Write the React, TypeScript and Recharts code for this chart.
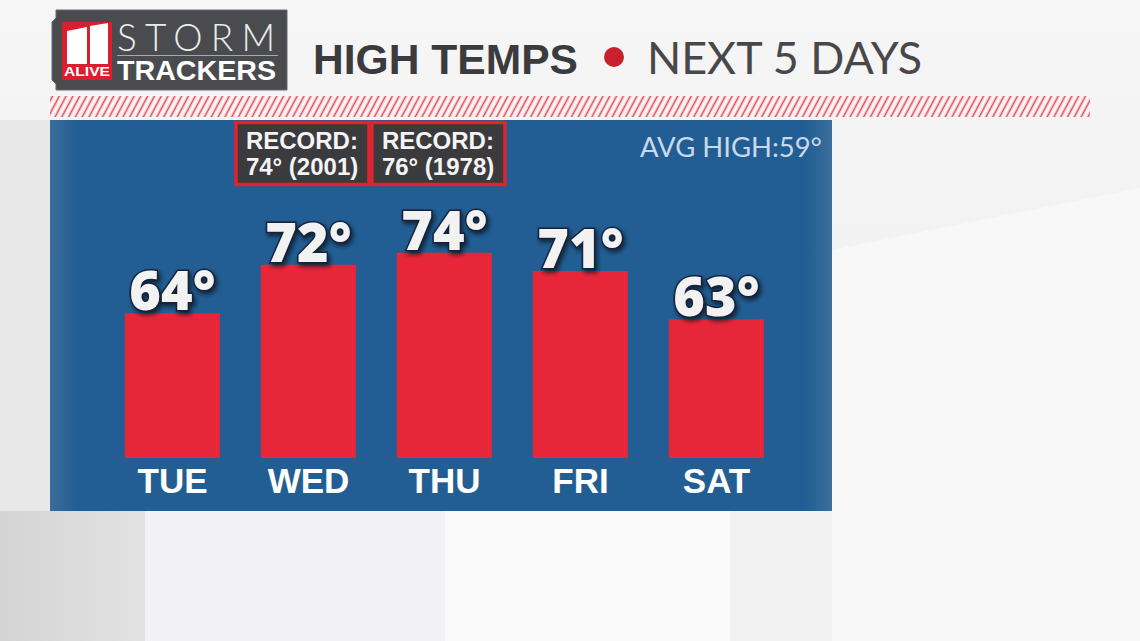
import React from 'react';
import { BarChart, Bar, XAxis, YAxis, LabelList } from 'recharts';

const days = ['TUE', 'WED', 'THU', 'FRI', 'SAT'];
const highs = [64, 72, 74, 71, 63];
const recordTemps: (number | null)[] = [null, 74, 76, null, null];
const recordYears: (number | null)[] = [null, 2001, 1978, null, null];
const avgHigh = 59;
const yDomain = [40, 96];

const data = days.map((d, i) => ({
  day: d,
  high: highs[i],
  record: recordTemps[i] == null ? null : `${recordTemps[i]}° (${recordYears[i]})`,
}));

const BLUE = '#225e93';
const RED = '#e8263a';

const ValueLabel = (p: any) => {
  const { x, y, width, value } = p;
  if (value == null) return null;
  return (
    <text
      x={x + width / 2}
      y={y - 3}
      textAnchor="middle"
      fill="#f2f2f2"
      stroke="#12243c"
      strokeWidth={3}
      paintOrder="stroke"
      filter="url(#valShadow)"
      style={{ fontFamily: '"Open Sans", "Liberation Sans", sans-serif', fontWeight: 800, fontSize: 54 }}
    >
      {`${value}°`}
    </text>
  );
};

const RecordLabel = (p: any) => {
  const { x, width, value } = p;
  if (value == null || value === '') return null;
  const cx = x + width / 2 - 6;
  const w = 133;
  const left = cx - w / 2;
  return (
    <g>
      <rect x={left} y={2.5} width={w} height={62} fill="#3b3b3e" stroke="#de2431" strokeWidth={3.5} />
      <text
        x={left + 10}
        y={29}
        fill="#f4f4f4"
        style={{ fontFamily: '"Liberation Sans", Arial, sans-serif', fontWeight: 700, fontSize: 24 }}
      >
        RECORD:
      </text>
      <text
        x={left + 10}
        y={55}
        fill="#f4f4f4"
        style={{ fontFamily: '"Liberation Sans", Arial, sans-serif', fontWeight: 700, fontSize: 24 }}
      >
        {value}
      </text>
    </g>
  );
};

const DayTick = (p: any) => {
  const { x, y, payload } = p;
  return (
    <text
      x={x}
      y={y + 35}
      textAnchor="middle"
      fill="#ffffff"
      style={{ fontFamily: '"Liberation Sans", Arial, sans-serif', fontWeight: 700, fontSize: 35 }}
    >
      {payload.value}
    </text>
  );
};

export default function App() {
  return (
    <div style={{ position: 'fixed', left: 0, top: 0, width: 1140, height: 641, overflow: 'hidden', background: '#f1f1f1' }}>
      {/* background */}
      <svg width={1140} height={641} style={{ position: 'absolute', left: 0, top: 0 }}>
        <defs>
          <linearGradient id="topBg" x1="0" y1="0" x2="0" y2="1">
            <stop offset="0" stopColor="#f6f6f6" />
            <stop offset="1" stopColor="#ececec" />
          </linearGradient>
          <linearGradient id="leftStrip" x1="0" y1="0" x2="1" y2="0">
            <stop offset="0" stopColor="#d4d4d4" />
            <stop offset="1" stopColor="#e2e2e2" />
          </linearGradient>
          <filter id="valShadow" x="-20%" y="-20%" width="140%" height="160%">
            <feDropShadow dx="2" dy="3" stdDeviation="2" floodColor="#0a1626" floodOpacity="0.85" />
          </filter>
          <pattern id="hatch" patternUnits="userSpaceOnUse" width="6" height="6" patternTransform="rotate(28)">
            <rect width="6" height="6" fill="#fbf4f4" />
            <line x1="1.5" y1="0" x2="1.5" y2="6" stroke="#e2495a" strokeWidth="1.6" />
          </pattern>
        </defs>
        <rect x={0} y={0} width={1140} height={641} fill="url(#topBg)" />
        <polygon points="832,250 1140,188 1140,641 832,641" fill="#f8f8f8" />
        <rect x={0} y={511} width={145} height={130} fill="url(#leftStrip)" />
        <rect x={145} y={511} width={300} height={130} fill="#f2f2f4" />
        <rect x={445} y={511} width={285} height={130} fill="#f9f9f9" />
        <rect x={730} y={511} width={102} height={130} fill="#f2f2f2" />
        <rect x={0} y={120} width={50} height={391} fill="#e8e8e8" />
        {/* hatch stripe */}
        <rect x={50} y={96} width={1040} height={21} fill="url(#hatch)" />
      </svg>

      {/* blue panel */}
      <div
        style={{
          position: 'absolute',
          left: 50,
          top: 120,
          width: 782,
          height: 391,
          background: `linear-gradient(to right, #3a6c9c 0px, ${BLUE} 28px, ${BLUE} 755px, #2f6797 770px, #3d6f9c 782px)`,
        }}
      />

      {/* chart */}
      <div style={{ position: 'absolute', left: 50, top: 120 }}>
        <BarChart
          width={782}
          height={391}
          data={data}
          margin={{ top: 0, right: 47.5, left: 54.5, bottom: 0 }}
          barCategoryGap="15%"
        >
          <YAxis hide domain={yDomain} allowDataOverflow />
          <XAxis
            dataKey="day"
            axisLine={false}
            tickLine={false}
            tickSize={0}
            tickMargin={0}
            height={53}
            interval={0}
            tick={<DayTick />}
          />
          <Bar dataKey="high" fill={RED} isAnimationActive={false}>
            <LabelList dataKey="high" content={<ValueLabel />} />
            <LabelList dataKey="record" content={<RecordLabel />} />
          </Bar>
        </BarChart>
      </div>

      {/* overlay: header + avg */}
      <svg width={1140} height={641} style={{ position: 'absolute', left: 0, top: 0, pointerEvents: 'none' }}>
        {/* logo */}
        <polygon
          points="56,10 287,10 287,90 56,90 56,84 52,80 52,22 56,18"
          fill="#4a4b4e"
          stroke="#6a6b6e"
          strokeWidth={1}
        />
        <rect x={62} y={22} width={50} height={58} fill="#d91f2e" />
        <polygon points="67,31 87,27 87,64 67,64" fill="#ffffff" />
        <polygon points="90,26 108,23 108,64 90,64" fill="#ffffff" />
        <text
          x={64}
          y={76}
          textLength={46}
          lengthAdjust="spacingAndGlyphs"
          fill="#ffffff"
          style={{ fontFamily: '"Liberation Sans", Arial, sans-serif', fontWeight: 900, fontSize: 12 }}
        >
          ALIVE
        </text>
        <text
          x={117}
          y={51}
          textLength={158}
          lengthAdjust="spacing"
          fill="#ececec"
          style={{ fontFamily: 'Lato, "Open Sans", sans-serif', fontWeight: 300, fontSize: 37 }}
        >
          STORM
        </text>
        <line x1={117} y1={55.5} x2={278} y2={55.5} stroke="#a8a8aa" strokeWidth={1} />
        <text
          x={117}
          y={80}
          textLength={159}
          lengthAdjust="spacingAndGlyphs"
          fill="#ffffff"
          style={{ fontFamily: '"Liberation Sans", Arial, sans-serif', fontWeight: 700, fontSize: 28 }}
        >
          TRACKERS
        </text>

        {/* title */}
        <text
          x={313}
          y={74}
          textLength={265}
          lengthAdjust="spacingAndGlyphs"
          fill="#3b3b3d"
          style={{ fontFamily: '"Liberation Sans", Arial, sans-serif', fontWeight: 700, fontSize: 43 }}
        >
          HIGH TEMPS
        </text>
        <circle cx={614} cy={57} r={10} fill="#c8202f" />
        <text
          x={647}
          y={74}
          textLength={275}
          lengthAdjust="spacingAndGlyphs"
          fill="#48484a"
          style={{ fontFamily: 'Lato, "Open Sans", sans-serif', fontWeight: 400, fontSize: 44 }}
        >
          NEXT 5 DAYS
        </text>

        {/* avg high */}
        <text
          x={640}
          y={157}
          textLength={182}
          lengthAdjust="spacingAndGlyphs"
          fill="#c9d9ea"
          style={{ fontFamily: 'Lato, "Open Sans", sans-serif', fontWeight: 400, fontSize: 26 }}
        >
          {`AVG HIGH:${avgHigh}°`}
        </text>
      </svg>
    </div>
  );
}
